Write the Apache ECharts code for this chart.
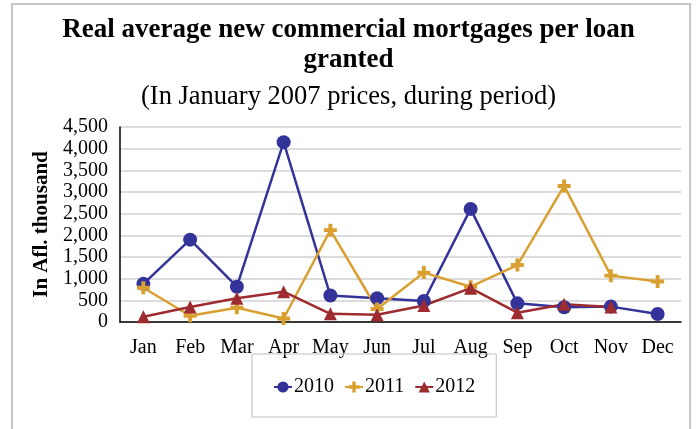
<!DOCTYPE html>
<html>
<head>
<meta charset="utf-8">
<script src="https://cdn.jsdelivr.net/npm/echarts@6/dist/echarts.min.js"></script>
<style>
html,body{margin:0;padding:0;background:#fff;}
#chart{width:697px;height:429px;}
</style>
</head>
<body>
<div id="chart"></div>
<script>
var categories = ['Jan','Feb','Mar','Apr','May','Jun','Jul','Aug','Sep','Oct','Nov','Dec'];
var yTicks = [0,500,1000,1500,2000,2500,3000,3500,4000,4500];
var s2010 = [880, 1900, 815, 4150, 610, 550, 485, 2610, 430, 340, 355, 185];
var s2011 = [790, 145, 330, 80, 2120, 300, 1140, 815, 1315, 3140, 1070, 935];
var s2012 = [120, 345, 550, 700, 190, 165, 380, 780, 215, 410, 345, null];
var seriesNames = ['2010','2011','2012'];

var plusPath = 'path://M7,0 L13,0 L13,7 L20,7 L20,13 L13,13 L13,20 L7,20 L7,13 L0,13 L0,7 L7,7 Z';

var chart = echarts.init(document.getElementById('chart'), null, {renderer:'canvas'});
var font = '"Liberation Serif", "Times New Roman", serif';
chart.setOption({
  animation:false,
  backgroundColor:'#ffffff',
  textStyle:{fontFamily:font},
  graphic:[{
    type:'polyline',
    shape:{points:[[12,430],[12,4],[690,4],[690,430]]},
    style:{stroke:'#c6c6c6', lineWidth:2, fill:null},
    silent:true
  }],
  title:[{
    text:'Real average new commercial mortgages per loan\ngranted',
    left:'center', top:10,
    textStyle:{fontFamily:font, fontSize:27, fontWeight:'bold', color:'#000', lineHeight:30, align:'center'}
  },{
    text:'(In January 2007 prices, during period)',
    left:'center', top:78,
    textStyle:{fontFamily:font, fontSize:26.5, fontWeight:'normal', color:'#000', lineHeight:28}
  }],
  legend:{
    data:seriesNames,
    left:252, top:354,
    padding:[23,21,20,21],
    borderColor:'#bfbfbf', borderWidth:1,
    itemGap:10, itemWidth:18, itemHeight:14,
    textStyle:{fontFamily:font, fontSize:20, color:'#000', padding:[0,0,0,-3]}
  },
  grid:{left:120, right:16, top:127, bottom:107, containLabel:false},
  xAxis:{
    type:'category', data:categories, boundaryGap:true,
    axisLine:{show:true, lineStyle:{color:'#000', width:1.5}},
    axisTick:{show:false},
    axisLabel:{fontFamily:font, fontSize:20, color:'#000', margin:16, interval:0}
  },
  yAxis:{
    type:'value', min:0, max:4500, interval:500,
    name:'In Afl. thousand', nameLocation:'middle', nameGap:65,
    nameTextStyle:{fontFamily:font, fontSize:21, fontWeight:'bold', color:'#000'},
    axisLine:{show:true, lineStyle:{color:'#000', width:1.5}},
    axisTick:{show:false},
    axisLabel:{fontFamily:font, fontSize:20, color:'#000', margin:12,
      formatter:function(v){ return yTicks.indexOf(v) >= 0 ? v.toLocaleString('en-US') : ''; }},
    splitLine:{show:true, lineStyle:{color:'#d0d0d0', width:1.5}}
  },
  series:[{
    name:seriesNames[0], type:'line', data:s2010,
    symbol:'circle', symbolSize:14,
    itemStyle:{color:'#333399'}, lineStyle:{color:'#333399', width:2.5}
  },{
    name:seriesNames[1], type:'line', data:s2011,
    symbol:plusPath, symbolSize:13,
    itemStyle:{color:'#d9a031'}, lineStyle:{color:'#d9a031', width:2.5}
  },{
    name:seriesNames[2], type:'line', data:s2012,
    symbol:'triangle', symbolSize:13,
    itemStyle:{color:'#9e2b2f'}, lineStyle:{color:'#9e2b2f', width:2.5}
  }]
});
</script>
</body>
</html>
